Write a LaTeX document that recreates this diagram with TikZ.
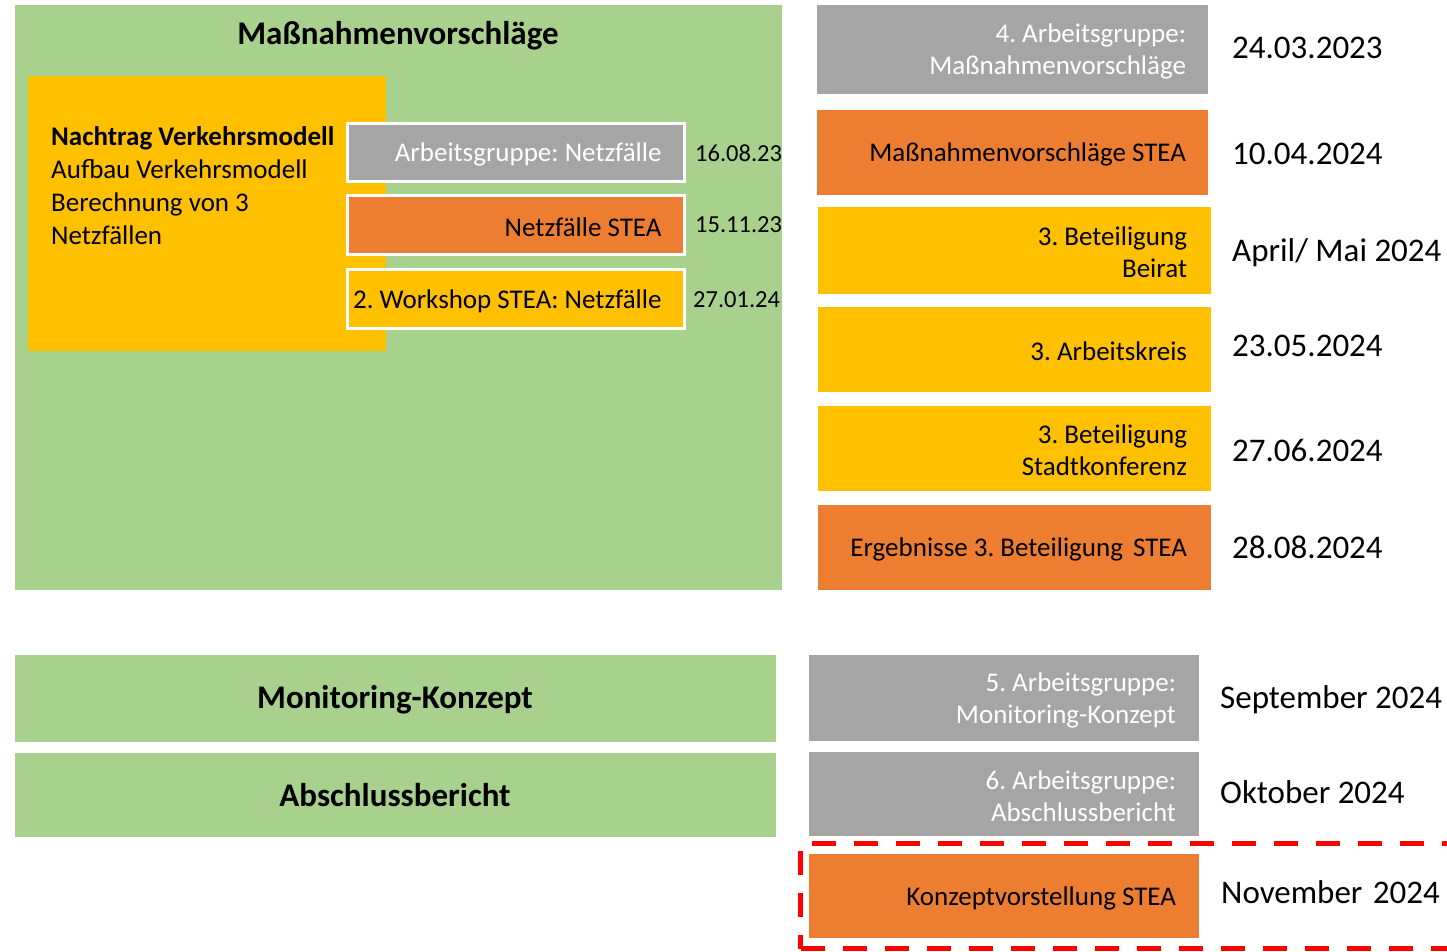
\documentclass[tikz,border=0pt]{standalone}
\usepackage{fontspec}
\setmainfont{Carlito}
\definecolor{cgreen}{HTML}{A9D18E}
\definecolor{corange}{HTML}{ED7D31}
\definecolor{cyellow}{HTML}{FFC000}
\definecolor{cgray}{HTML}{A5A5A5}
\begin{document}
\frenchspacing
\begin{tikzpicture}[x=1pt,y=-1pt,
  blk/.style={rectangle, inner sep=0, outer sep=0, anchor=north west},
  gfill/.style={blk, fill=cgreen},
  ofill/.style={blk, fill=corange},
  yfill/.style={blk, fill=cyellow},
  afill/.style={blk, fill=cgray},
  wborder/.style={draw=white, line width=3pt},
  lbl/.style={inner sep=0, outer sep=0, anchor=east, align=right, yshift=-2pt, font=\fontsize{27}{32}\selectfont},
  wlbl/.style={lbl, text=white},
  bigdate/.style={inner sep=0, anchor=west, font=\fontsize{33}{38}\selectfont},
  smalldate/.style={inner sep=0, anchor=west, font=\fontsize{24.5}{28}\selectfont},
  title/.style={inner sep=0, font=\fontsize{33}{38}\selectfont\bfseries}
]
\clip (0,0) rectangle (1447,952);
\fill[white] (0,0) rectangle (1447,952);

% left big green
\node[gfill, minimum width=767pt, minimum height=585pt] (mass) at (15,5) {};
\node[title] (masst) at (398,36) {Maßnahmenvorschläge};
\node[yfill, minimum width=358pt, minimum height=275pt] (nach) at (28,76) {};
\node[inner sep=0, anchor=west, align=left, font=\fontsize{27}{33}\selectfont] (nacht) at (51,186)
  {\textbf{Nachtrag Verkehrsmodell}\\Aufbau Verkehrsmodell\\Berechnung von 3\\Netzfällen};

\node[afill, wborder, minimum width=337pt, minimum height=58pt] (ag) at (347.5,123.5) {};
\node[wlbl] (agt) at ([xshift=-23pt]ag.east) {Arbeitsgruppe: Netzfälle};
\node[ofill, wborder, minimum width=337pt, minimum height=59pt] (nf) at (347.5,195.5) {};
\node[lbl] (nft) at ([xshift=-23pt]nf.east) {Netzfälle STEA};
\node[yfill, wborder, minimum width=337pt, minimum height=59pt] (ws) at (347.5,269.5) {};
\node[lbl] (wst) at ([xshift=-23pt]ws.east) {2. Workshop STEA: Netzfälle};

\node[smalldate] (d1) at (695,153) {16.08.23};
\node[smalldate] (d2) at (695,225) {15.11.23};
\node[smalldate] (d3) at (693,300) {27.01.24};

% right column
\node[afill, minimum width=391pt, minimum height=89pt] (r1) at (817,5) {};
\node[wlbl] (r1t) at ([xshift=-22pt]r1.east) {4. Arbeitsgruppe:\\Maßnahmenvorschläge};
\node[ofill, minimum width=391pt, minimum height=85pt] (r2) at (817,110) {};
\node[lbl] (r2t) at ([xshift=-22pt]r2.east) {Maßnahmenvorschläge STEA};
\node[yfill, minimum width=393pt, minimum height=87pt] (r3) at (818,207) {};
\node[lbl] (r3t) at ([xshift=-24pt]r3.east) {3. Beteiligung\\Beirat};
\node[yfill, minimum width=393pt, minimum height=85pt] (r4) at (818,307) {};
\node[lbl] (r4t) at ([xshift=-24pt]r4.east) {3. Arbeitskreis};
\node[yfill, minimum width=393pt, minimum height=85pt] (r5) at (818,406) {};
\node[lbl] (r5t) at ([xshift=-24pt]r5.east) {3. Beteiligung\\Stadtkonferenz};
\node[ofill, minimum width=393pt, minimum height=85pt] (r6) at (818,505) {};
\node[lbl] (r6t) at ([xshift=-24pt]r6.east) {Ergebnisse 3. Beteiligung\hspace{4pt} STEA};

\node[bigdate] (rd1) at (1232,48) {24.03.2023};
\node[bigdate] (rd2) at (1232,154) {10.04.2024};
\node[bigdate] (rd3) at (1232,253) {April/ Mai 2024};
\node[bigdate] (rd4) at (1232,346) {23.05.2024};
\node[bigdate] (rd5) at (1232,450) {27.06.2024};
\node[bigdate] (rd6) at (1232,547) {28.08.2024};

% bottom
\node[gfill, minimum width=761pt, minimum height=87pt] (mon) at (15,655) {};
\node[title] (mont) at (395,700) {Monitoring-Konzept};
\node[gfill, minimum width=761pt, minimum height=84pt] (abs) at (15,753) {};
\node[title] (abst) at (395,795) {Abschlussbericht};

\node[afill, minimum width=390pt, minimum height=86pt] (b1) at (809,655) {};
\node[wlbl] (b1t) at ([xshift=-23pt]b1.east) {5. Arbeitsgruppe:\\Monitoring-Konzept};
\node[afill, minimum width=390pt, minimum height=84pt] (b2) at (809,752) {};
\node[wlbl] (b2t) at ([xshift=-23pt]b2.east) {6. Arbeitsgruppe:\\Abschlussbericht};
\node[ofill, minimum width=390pt, minimum height=84pt] (b3) at (809,854) {};
\node[lbl] (b3t) at ([xshift=-23pt]b3.east) {Konzeptvorstellung STEA};

\node[bigdate] (bd1) at (1220,700) {September 2024};
\node[bigdate] (bd2) at (1220,792) {Oktober 2024};
\node[bigdate] (bd3) at (1221,892) {November\hspace{3pt} 2024};

\node[blk, draw=red, line width=5pt, dash pattern=on 24pt off 18pt,
  minimum width=700pt, minimum height=105pt] (hl) at (800.5,843.5) {};
\end{tikzpicture}
\end{document}
